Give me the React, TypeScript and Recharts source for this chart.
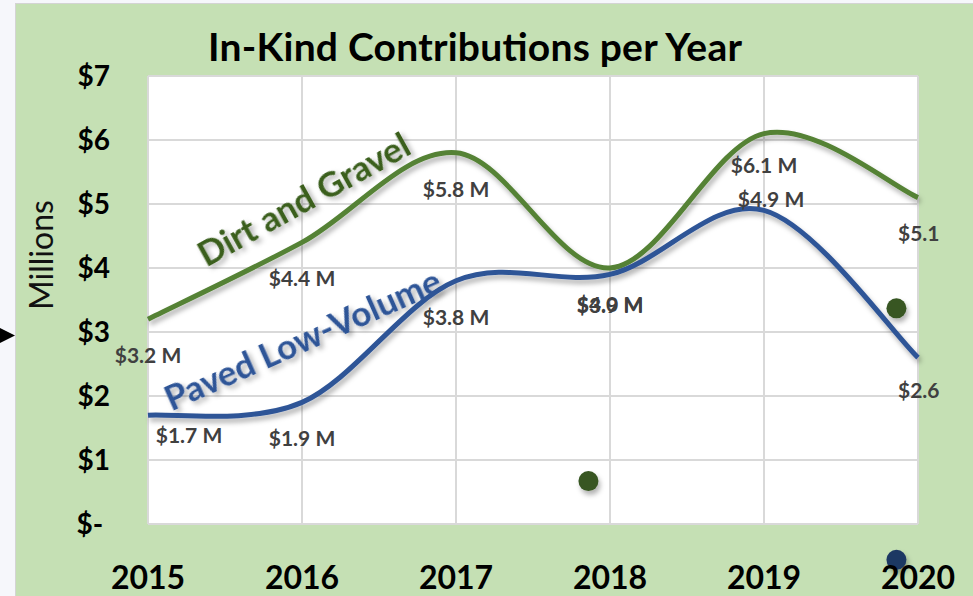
import { LineChart, Line, XAxis, YAxis, CartesianGrid, LabelList, ReferenceDot, Customized } from 'recharts'

const years = [2015, 2016, 2017, 2018, 2019, 2020]
const dirtGravel = [3.2, 4.4, 5.8, 4.0, 6.1, 5.1]
const pavedLowVolume = [1.7, 1.9, 3.8, 3.9, 4.9, 2.6]
const yTicks = [0, 1, 2, 3, 4, 5, 6, 7]

// stray markers left over in the source picture
const strayGreenDots = [
  { x: 2017.86, y: 0.67 },
  { x: 2019.86, y: 3.37 },
]
const strayBlueDots = [{ x: 2019.86, y: -0.56 }]

const data = years.map((year, i) => ({ year, dirt: dirtGravel[i], paved: pavedLowVolume[i] }))

// label nudges (px) per point, like the hand-placed labels in the original
const greenOffsets = [[0, 35], [0, 35], [0, 36], [0, 35], [0, 31], [-20, 35]]
const blueOffsets = [[41, 19], [0, 35], [0, 36], [0, 30], [7, -12], [-20, 32]]

const FONT = 'Lato'

// Excel-like smoothed line (Catmull-Rom through every point)
function excelSmooth(context: any) {
  let pts: number[][] = []
  return {
    areaStart() {},
    areaEnd() {},
    lineStart() {
      pts = []
    },
    point(x: number, y: number) {
      pts.push([+x, +y])
    },
    lineEnd() {
      const n = pts.length
      if (!n) return
      context.moveTo(pts[0][0], pts[0][1])
      for (let i = 0; i < n - 1; i++) {
        const p0 = pts[Math.max(i - 1, 0)]
        const p1 = pts[i]
        const p2 = pts[i + 1]
        const p3 = pts[Math.min(i + 2, n - 1)]
        context.bezierCurveTo(
          p1[0] + (p2[0] - p0[0]) / 6,
          p1[1] + (p2[1] - p0[1]) / 6,
          p2[0] - (p3[0] - p1[0]) / 6,
          p2[1] - (p3[1] - p1[1]) / 6,
          p2[0],
          p2[1]
        )
      }
    },
  }
}

const renderLabel = (offsets: number[][]) => (p: any) => {
  const { x, y, value, index } = p
  const [dx, dy] = offsets[index]
  const last = index === years.length - 1
  return (
    <text
      key={index}
      x={x + dx}
      y={y + dy}
      textAnchor={last ? 'start' : 'middle'}
      dominantBaseline="central"
      fontFamily={FONT}
      fontWeight={700}
      fontSize={21}
      fill="#404040"
    >
      {last ? `$${value.toFixed(1)}` : `$${value.toFixed(1)} M`}
    </text>
  )
}

const dotShape = (fill: string) => (p: any) =>
  <circle cx={p.cx} cy={p.cy} r={10} fill={fill} filter="url(#softShadow)" />

function Annotations() {
  return (
    <g fontFamily={FONT}>
      <text x={475} y={61} textAnchor="middle" fontSize={39} fontWeight={700} fill="#000" textLength={534}>
        In-Kind Contributions per Year
      </text>
      <text x={53} y={255} transform="rotate(-90 53 255)" textAnchor="middle" fontSize={32} fill="#111">
        Millions
      </text>
      <text
        x={303}
        y={198}
        transform="rotate(-29 303 198)"
        textAnchor="middle"
        dominantBaseline="central"
        fontSize={35}
        fontWeight={700}
        fill="#3a5f1f"
        filter="url(#softShadow)"
      >
        Dirt and Gravel
      </text>
      <text
        x={302}
        y={338}
        transform="rotate(-24 302 338)"
        textAnchor="middle"
        dominantBaseline="central"
        fontSize={35}
        fontWeight={700}
        fill="#2f5597"
        filter="url(#softShadow)"
      >
        Paved Low-Volume
      </text>
    </g>
  )
}

export default function App() {
  return (
    <div style={{ position: 'relative', width: 973, height: 596, background: '#f6f7fb', overflow: 'hidden' }}>
      <style>{'body{margin:0}'}</style>
      <svg width={0} height={0} style={{ position: 'absolute' }}>
        <defs>
          <filter id="softShadow" filterUnits="userSpaceOnUse" x={0} y={0} width={973} height={596}>
            <feDropShadow dx={2} dy={4} stdDeviation={2.5} floodColor="#000" floodOpacity={0.3} />
          </filter>
        </defs>
      </svg>
      <div
        style={{
          position: 'absolute',
          left: 15,
          top: 3,
          right: 0,
          bottom: 0,
          background: '#c5e0b4',
          borderLeft: '1px solid #d4d4d4',
          borderTop: '1px solid #d4d4d4',
        }}
      />
      <svg width={16} height={20} style={{ position: 'absolute', left: 0, top: 326 }}>
        <polygon points="0,2 15,9.5 0,17" fill="#000" />
      </svg>
      <div style={{ position: 'absolute', left: 0, top: 0 }}>
        <LineChart width={973} height={596} data={data} margin={{ top: 76, right: 55, bottom: 0, left: 0 }}>
          <CartesianGrid stroke="#d9d9d9" strokeWidth={2} fill="#ffffff" />
          <XAxis
            dataKey="year"
            type="number"
            domain={[2015, 2020]}
            ticks={years}
            interval={0}
            height={72}
            axisLine={false}
            tickLine={false}
            tickSize={0}
            tickMargin={42}
            tick={{ fontFamily: FONT, fontSize: 32, fontWeight: 700, fill: '#000' }}
          />
          <YAxis
            domain={[0, 7]}
            ticks={yTicks}
            interval={0}
            width={148}
            axisLine={false}
            tickLine={false}
            tickSize={0}
            tickMargin={38}
            tickFormatter={(v: number) => (v === 0 ? '$-\u00a0' : `$${v}`)}
            tick={{ fontFamily: FONT, fontSize: 28, fontWeight: 700, fill: '#000' }}
          />
          <Line
            type={excelSmooth as any}
            dataKey="dirt"
            stroke="#548235"
            strokeWidth={5}
            dot={false}
            activeDot={false}
            filter="url(#softShadow)"
            isAnimationActive={false}
          >
            <LabelList dataKey="dirt" content={renderLabel(greenOffsets)} />
          </Line>
          <Line
            type={excelSmooth as any}
            dataKey="paved"
            stroke="#2f5597"
            strokeWidth={5}
            dot={false}
            activeDot={false}
            filter="url(#softShadow)"
            isAnimationActive={false}
          >
            <LabelList dataKey="paved" content={renderLabel(blueOffsets)} />
          </Line>
          {strayGreenDots.map((d, i) => (
            <ReferenceDot key={`g${i}`} x={d.x} y={d.y} ifOverflow="visible" shape={dotShape('#375623')} />
          ))}
          {strayBlueDots.map((d, i) => (
            <ReferenceDot key={`b${i}`} x={d.x} y={d.y} ifOverflow="visible" shape={dotShape('#1f3864')} />
          ))}
          <Customized component={Annotations} />
        </LineChart>
      </div>
    </div>
  )
}
